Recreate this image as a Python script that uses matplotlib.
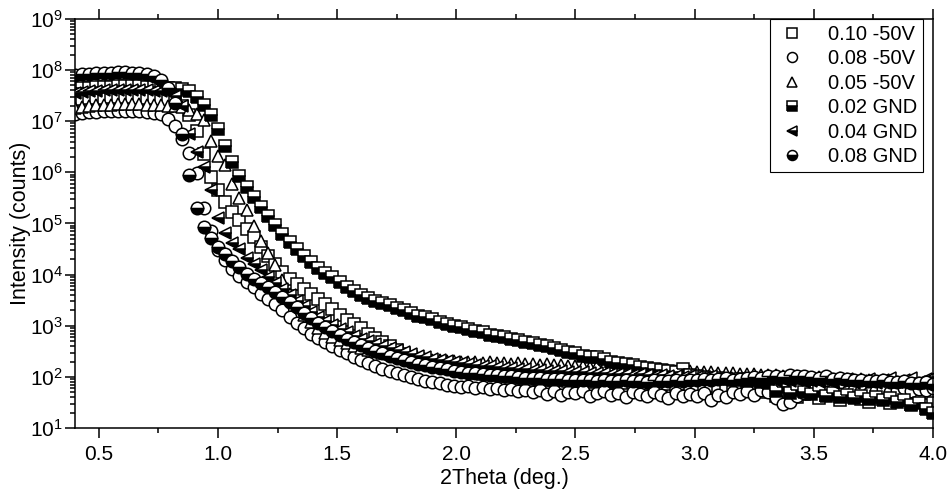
import matplotlib.pyplot as plt
import numpy as np

plt.rcParams['font.family'] = ['Liberation Sans', 'DejaVu Sans']
plt.rcParams['mathtext.fontset'] = 'custom'
plt.rcParams['mathtext.rm'] = 'Liberation Sans'

# scan positions (2theta, deg.)
two_theta = [
    0.40, 0.43, 0.46, 0.49, 0.52, 0.55, 0.58, 0.61, 0.64, 0.67,
    0.70, 0.73, 0.76, 0.79, 0.82, 0.85, 0.88, 0.91, 0.94, 0.97,
    1.00, 1.03, 1.06, 1.09, 1.12, 1.15, 1.18, 1.21, 1.24, 1.27,
    1.30, 1.33, 1.36, 1.39, 1.42, 1.45, 1.48, 1.51, 1.54, 1.57,
    1.60, 1.63, 1.66, 1.69, 1.72, 1.75, 1.78, 1.81, 1.84, 1.87,
    1.90, 1.93, 1.96, 1.99, 2.02, 2.05, 2.08, 2.11, 2.14, 2.17,
    2.20, 2.23, 2.26, 2.29, 2.32, 2.35, 2.38, 2.41, 2.44, 2.47,
    2.50, 2.53, 2.56, 2.59, 2.62, 2.65, 2.68, 2.71, 2.74, 2.77,
    2.80, 2.83, 2.86, 2.89, 2.92, 2.95, 2.98, 3.01, 3.04, 3.07,
    3.10, 3.13, 3.16, 3.19, 3.22, 3.25, 3.28, 3.31, 3.34, 3.37,
    3.40, 3.43, 3.46, 3.49, 3.52, 3.55, 3.58, 3.61, 3.64, 3.67,
    3.70, 3.73, 3.76, 3.79, 3.82, 3.85, 3.88, 3.91, 3.94, 3.97,
    4.00,
]

# log10 of intensity (counts)
log_010_m50v = [
    7.42, 7.44, 7.45, 7.46, 7.46, 7.47, 7.47, 7.47, 7.47, 7.46,
    7.46, 7.45, 7.44, 7.42, 7.38, 7.30, 7.12, 6.80, 6.35, 5.90,
    5.65, 5.42, 5.22, 5.06, 4.90, 4.74, 4.55, 4.36, 4.20, 4.06,
    3.92, 3.82, 3.72, 3.62, 3.52, 3.42, 3.32, 3.22, 3.12, 3.03,
    2.95, 2.85, 2.76, 2.68, 2.60, 2.52, 2.45, 2.40, 2.35, 2.30,
    2.26, 2.22, 2.18, 2.15, 2.12, 2.10, 2.08, 2.06, 2.05, 2.03,
    2.02, 2.00, 1.99, 1.98, 1.97, 1.96, 1.95, 1.94, 1.95, 1.93,
    1.92, 1.93, 1.91, 1.92, 1.90, 1.89, 1.91, 1.88, 1.90, 1.87,
    1.86, 1.88, 1.85, 1.87, 1.84, 1.86, 1.85, 1.84, 1.80, 1.83,
    1.78, 1.81, 1.76, 1.79, 1.74, 1.77, 1.70, 1.75, 1.62, 1.68,
    1.72, 1.60, 1.66, 1.70, 1.58, 1.64, 1.67, 1.55, 1.62, 1.66,
    1.57, 1.52, 1.63, 1.58, 1.50, 1.61, 1.55, 1.48, 1.56, 1.45,
    1.50,
]
log_008_m50v = [
    7.14, 7.16, 7.17, 7.18, 7.19, 7.19, 7.20, 7.20, 7.19, 7.19,
    7.18, 7.16, 7.13, 7.05, 6.90, 6.65, 6.38, 5.98, 5.30, 4.85,
    4.48, 4.28, 4.12, 3.98, 3.86, 3.75, 3.63, 3.52, 3.42, 3.30,
    3.18, 3.06, 2.95, 2.84, 2.76, 2.68, 2.60, 2.53, 2.46, 2.40,
    2.34, 2.28, 2.22, 2.16, 2.12, 2.08, 2.04, 2.00, 1.96, 1.93,
    1.90, 1.88, 1.85, 1.82, 1.80, 1.82, 1.78, 1.80, 1.76, 1.79,
    1.74, 1.77, 1.72, 1.75, 1.70, 1.74, 1.66, 1.72, 1.64, 1.70,
    1.68, 1.72, 1.62, 1.69, 1.73, 1.65, 1.68, 1.60, 1.70, 1.66,
    1.62, 1.71, 1.64, 1.58, 1.68, 1.63, 1.66, 1.62, 1.68, 1.55,
    1.65, 1.60, 1.70, 1.66, 1.72, 1.64, 1.74, 1.70, 1.58, 1.48,
    1.52, 1.62, 1.68, 1.72, 1.76, 1.70, 1.74, 1.66, 1.70, 1.75,
    1.72, 1.68, 1.73, 1.77, 1.70, 1.74, 1.78, 1.72, 1.76, 1.74,
    1.78,
]
log_005_m50v = [
    7.26, 7.28, 7.30, 7.31, 7.32, 7.32, 7.33, 7.33, 7.33, 7.33,
    7.32, 7.32, 7.31, 7.30, 7.29, 7.27, 7.22, 7.14, 7.02, 6.62,
    6.32, 6.15, 5.78, 5.50, 5.26, 4.95, 4.66, 4.42, 4.18, 3.90,
    3.62, 3.40, 3.22, 3.08, 2.96, 2.86, 2.78, 2.72, 2.66, 2.61,
    2.57, 2.53, 2.50, 2.47, 2.45, 2.43, 2.41, 2.39, 2.37, 2.36,
    2.34, 2.33, 2.32, 2.31, 2.30, 2.29, 2.30, 2.28, 2.29, 2.27,
    2.28, 2.26, 2.27, 2.25, 2.26, 2.24, 2.25, 2.23, 2.24, 2.22,
    2.21, 2.22, 2.20, 2.21, 2.19, 2.18, 2.19, 2.17, 2.16, 2.17,
    2.15, 2.14, 2.15, 2.13, 2.12, 2.13, 2.11, 2.10, 2.09, 2.10,
    2.08, 2.07, 2.08, 2.06, 2.05, 2.06, 2.04, 2.03, 2.04, 2.02,
    2.01, 2.02, 2.00, 1.99, 2.00, 1.98, 1.97, 1.98, 1.96, 1.95,
    1.96, 1.94, 1.93, 1.94, 1.92, 1.91, 1.92, 1.90, 1.89, 1.90,
    1.88,
]
log_002_gnd = [
    7.62, 7.64, 7.65, 7.66, 7.67, 7.67, 7.68, 7.68, 7.68, 7.68,
    7.67, 7.67, 7.66, 7.65, 7.64, 7.63, 7.58, 7.48, 7.32, 7.12,
    6.85, 6.52, 6.20, 5.92, 5.72, 5.52, 5.33, 5.15, 4.97, 4.80,
    4.64, 4.50, 4.36, 4.24, 4.13, 4.04, 3.95, 3.86, 3.76, 3.68,
    3.61, 3.55, 3.49, 3.44, 3.40, 3.35, 3.30, 3.25, 3.20, 3.17,
    3.14, 3.08, 3.04, 3.00, 2.97, 2.93, 2.90, 2.87, 2.83, 2.80,
    2.78, 2.75, 2.72, 2.68, 2.66, 2.63, 2.61, 2.56, 2.53, 2.49,
    2.46, 2.42, 2.39, 2.39, 2.36, 2.29, 2.28, 2.26, 2.23, 2.20,
    2.18, 2.16, 2.13, 2.11, 2.09, 2.15, 2.04, 2.02, 2.00, 1.98,
    1.99, 1.96, 1.95, 1.97, 1.93, 1.94, 1.90, 1.88, 1.72, 1.80,
    1.68, 1.75, 1.70, 1.66, 1.72, 1.62, 1.68, 1.60, 1.65, 1.58,
    1.63, 1.57, 1.60, 1.55, 1.58, 1.52, 1.56, 1.45, 1.50, 1.38,
    1.30,
]
log_004_gnd = [
    7.55, 7.57, 7.58, 7.59, 7.60, 7.60, 7.61, 7.61, 7.61, 7.60,
    7.60, 7.59, 7.58, 7.56, 7.50, 7.30, 6.75, 6.40, 6.10, 5.65,
    5.10, 4.82, 4.62, 4.50, 4.32, 4.20, 4.10, 3.95, 3.84, 3.72,
    3.60, 3.48, 3.38, 3.28, 3.18, 3.10, 3.02, 2.94, 2.87, 2.81,
    2.75, 2.70, 2.65, 2.60, 2.56, 2.52, 2.48, 2.45, 2.42, 2.39,
    2.36, 2.34, 2.31, 2.29, 2.27, 2.25, 2.24, 2.22, 2.21, 2.20,
    2.18, 2.17, 2.16, 2.15, 2.14, 2.13, 2.12, 2.11, 2.12, 2.10,
    2.09, 2.10, 2.08, 2.07, 2.08, 2.06, 2.05, 2.06, 2.04, 2.05,
    2.03, 2.02, 2.04, 2.01, 2.02, 2.00, 2.01, 2.00, 1.98, 2.01,
    1.97, 1.99, 1.96, 1.98, 1.95, 1.97, 1.94, 1.96, 1.93, 1.95,
    1.92, 1.94, 1.91, 1.93, 1.90, 1.95, 1.89, 1.92, 1.96, 1.88,
    1.93, 1.97, 1.89, 1.94, 1.98, 1.90, 1.95, 1.99, 1.91, 1.96,
    2.00,
]
log_008_gnd = [
    7.90, 7.92, 7.93, 7.94, 7.95, 7.95, 7.96, 7.96, 7.95, 7.94,
    7.92, 7.88, 7.80, 7.65, 7.35, 6.75, 5.95, 5.30, 4.93, 4.72,
    4.55, 4.40, 4.26, 4.14, 4.02, 3.92, 3.84, 3.75, 3.66, 3.56,
    3.46, 3.36, 3.26, 3.16, 3.06, 2.97, 2.89, 2.82, 2.75, 2.68,
    2.62, 2.56, 2.51, 2.46, 2.41, 2.37, 2.33, 2.29, 2.26, 2.23,
    2.20, 2.17, 2.15, 2.12, 2.10, 2.08, 2.07, 2.05, 2.04, 2.03,
    2.02, 2.01, 2.00, 1.99, 1.98, 1.98, 1.97, 1.96, 1.96, 1.95,
    1.95, 1.94, 1.94, 1.93, 1.95, 1.93, 1.92, 1.94, 1.92, 1.93,
    1.91, 1.94, 1.92, 1.93, 1.95, 1.92, 1.94, 1.95, 1.97, 1.94,
    1.96, 1.98, 1.95, 1.97, 1.99, 2.00, 1.98, 2.01, 2.02, 2.00,
    2.03, 2.01, 2.02, 2.00, 1.99, 2.01, 1.97, 1.98, 1.96, 1.94,
    1.95, 1.93, 1.92, 1.94, 1.91, 1.90, 1.93, 1.89, 1.88, 1.91,
    1.87,
]

labels = ['0.10 -50V', '0.08 -50V', '0.05 -50V', '0.02 GND', '0.04 GND', '0.08 GND']
series = [log_010_m50v, log_008_m50v, log_005_m50v, log_002_gnd, log_004_gnd, log_008_gnd]
markers = ['s', 'o', '^', 's', '<', 'o']
fills = ['full', 'full', 'full', 'bottom', 'bottom', 'bottom']
faces = ['white', 'white', 'white', 'black', 'black', 'black']

fig = plt.figure(figsize=(9.5, 4.95), dpi=100)
ax = fig.add_axes([0.079, 0.135, 0.903, 0.827])

for lab, vals, m, fs, fc in zip(labels, series, markers, fills, faces):
    ax.plot(two_theta, 10 ** np.array(vals), linestyle='none', marker=m,
            markersize=9, markeredgewidth=1.1, markeredgecolor='black',
            markerfacecolor=fc, markerfacecoloralt='white', fillstyle=fs,
            label=lab)

ax.set_yscale('log')
ax.set_xlim(0.4, 4.0)
ax.set_ylim(1e1, 1e9)
ax.set_xticks([0.5, 1.0, 1.5, 2.0, 2.5, 3.0, 3.5, 4.0])
ax.set_xticks([0.75, 1.25, 1.75, 2.25, 2.75, 3.25, 3.75], minor=True)
ax.set_xticklabels(['0.5', '1.0', '1.5', '2.0', '2.5', '3.0', '3.5', '4.0'])

ax.tick_params(which='both', direction='out', top=True, right=False,
               labelsize=15, width=1.1, color='black')
ax.tick_params(which='major', length=7)
ax.tick_params(which='minor', length=3.5)
ax.tick_params(axis='x', pad=5)
ax.tick_params(axis='y', pad=1.5)
for sp in ax.spines.values():
    sp.set_linewidth(1.1)

ax.set_xlabel('2Theta (deg.)', fontsize=15.5, labelpad=3)
ax.set_ylabel('Intensity (counts)', fontsize=15.5, labelpad=-1)

leg = ax.legend(loc='upper right', bbox_to_anchor=(0.989, 1.0), borderaxespad=0,
                fontsize=14.5, markerscale=0.8, handletextpad=1.0,
                labelspacing=0.27, fancybox=False, framealpha=1,
                edgecolor='black', handlelength=1.6, borderpad=0.3)
leg.get_frame().set_linewidth(0.8)

plt.savefig('out.png', dpi=100)
